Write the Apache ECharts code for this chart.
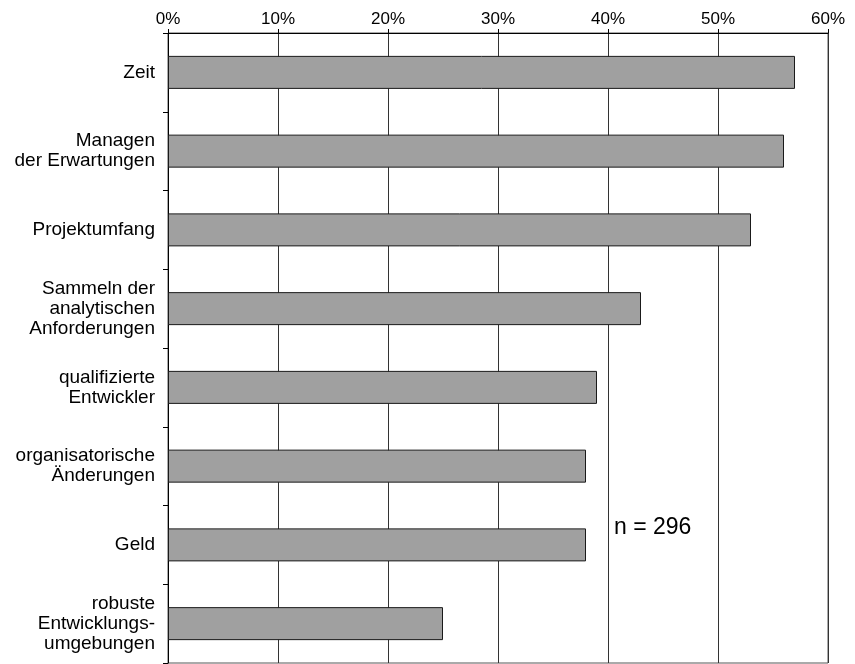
<!DOCTYPE html>
<html>
<head>
<meta charset="utf-8">
<script src="https://cdn.jsdelivr.net/npm/echarts@6/dist/echarts.min.js"></script>
<style>
  html, body { margin: 0; padding: 0; background: #fff; }
  #chart { width: 855px; height: 664px; }
</style>
</head>
<body>
<div id="chart"></div>
<script>
// Survey results: obstacles named by respondents (share in percent)
const categories = [
  'Zeit',
  'Managen\nder Erwartungen',
  'Projektumfang',
  'Sammeln der\nanalytischen\nAnforderungen',
  'qualifizierte\nEntwickler',
  'organisatorische\nÄnderungen',
  'Geld',
  'robuste\nEntwicklungs-\numgebungen'
];
const shares = [57, 56, 53, 43, 39, 38, 38, 25];
const sampleNote = 'n = 296';

const chart = echarts.init(document.getElementById('chart'), null, { renderer: 'canvas' });
const font = 'Liberation Sans, Arial, sans-serif';

chart.setOption({
  animation: false,
  backgroundColor: '#fff',
  grid: {
    left: 168, right: 27, top: 33, bottom: 1,
    show: true, borderColor: '#555', borderWidth: 1
  },
  xAxis: {
    type: 'value',
    position: 'top',
    min: 0, max: 60, interval: 10,
    axisLine: { show: true, lineStyle: { color: '#000', width: 1 } },
    axisTick: { show: true, length: 4, lineStyle: { color: '#000' } },
    axisLabel: {
      formatter: '{value}%', color: '#000', fontSize: 17, fontFamily: font, margin: 5
    },
    splitLine: { show: true, lineStyle: { color: '#333', width: 1 } }
  },
  yAxis: {
    type: 'category',
    data: categories,
    inverse: true,
    axisLine: { show: true, lineStyle: { color: '#000', width: 1 } },
    axisTick: { show: true, length: 5, inside: false, lineStyle: { color: '#000' } },
    axisLabel: {
      color: '#000', fontSize: 19, fontFamily: font, lineHeight: 20, margin: 13, align: 'right',
      padding: [8, 0, 0, 0]
    },
    splitLine: { show: false }
  },
  series: [{
    type: 'bar',
    data: shares,
    barWidth: 33,
    itemStyle: { color: '#a0a0a0', borderColor: '#1a1a1a', borderWidth: 1 },
    z: 3
  }],
  graphic: [{
    type: 'text',
    left: 614, top: 516,
    style: { text: sampleNote, fill: '#000', fontSize: 23, fontFamily: font }
  }]
});
</script>
</body>
</html>
